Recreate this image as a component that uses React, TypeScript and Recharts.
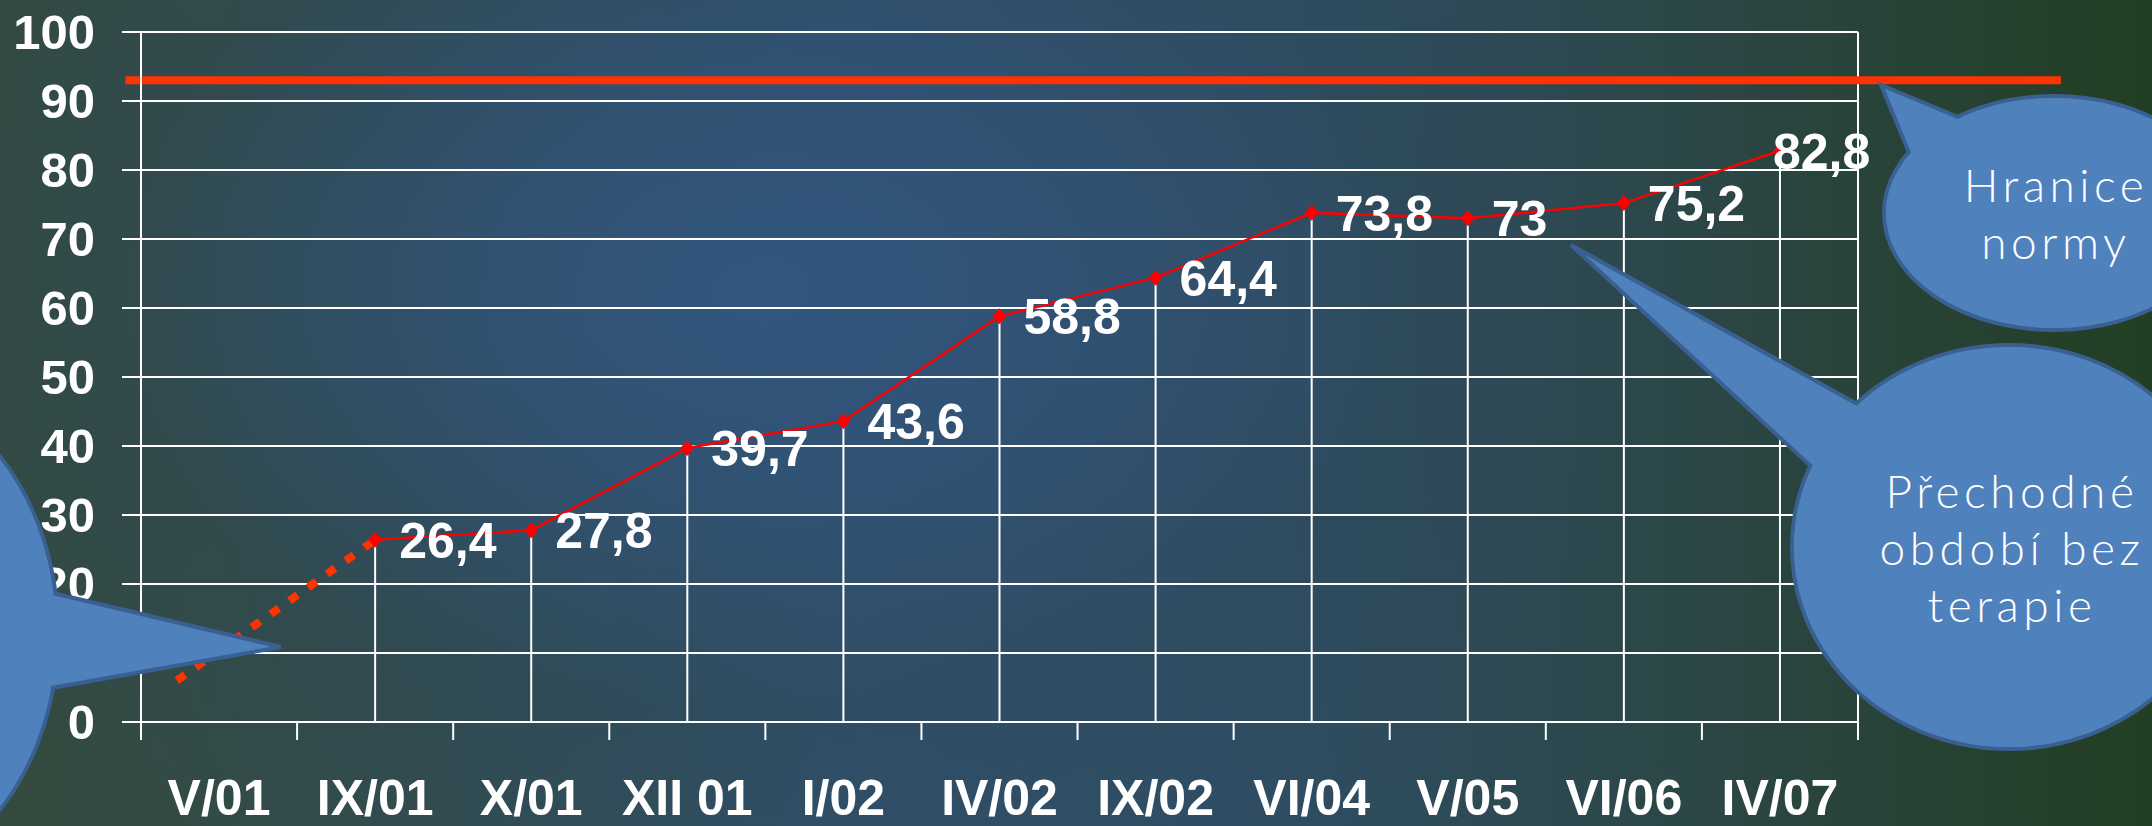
import React from 'react';
import { ComposedChart, Line, XAxis, YAxis, CartesianGrid, ReferenceLine, LabelList } from 'recharts';

// period labels on the x axis
const categories = ['V/01', 'IX/01', 'X/01', 'XII 01', 'I/02', 'IV/02', 'IX/02', 'VI/04', 'V/05', 'VI/06', 'IV/07'];
// measured values (V/01 has no measured point)
const values = [null, 26.4, 27.8, 39.7, 43.6, 58.8, 64.4, 73.8, 73, 75.2, 82.8];
const yTicks = [0, 10, 20, 30, 40, 50, 60, 70, 80, 90, 100];
// upper limit of the norm
const normLimit = 93;
// estimated start of the dotted segment (category position, value)
const estimateStart = { pos: 0.23, value: 6 };

const W = 2152;
const H = 826;
const boldFont = '"Liberation Sans", Arial, sans-serif';
const bubbleFont = 'Lato, "Open Sans", sans-serif';

const mainData = values
  .map((v, i) => ({ x: i + 0.5, v }))
  .filter((d) => d.v !== null);
const dottedData = [
  { x: estimateStart.pos, v: estimateStart.value },
  { x: 1.5, v: values[1] },
];
// tick marks on band edges, labels in band centres
const xTicks = categories
  .flatMap((_, i) => [i, i + 0.5])
  .concat(categories.length);

const XTick = (props: any) => {
  const { x, y, payload } = props;
  const v = payload.value as number;
  if (Number.isInteger(v)) {
    return <line x1={x} y1={y} x2={x} y2={y + 18} stroke="#FFFFFF" strokeWidth={2} />;
  }
  return (
    <text
      x={x}
      y={y + 93}
      textAnchor="middle"
      fill="#FFFFFF"
      fontFamily={boldFont}
      fontWeight="bold"
      fontSize={50}
    >
      {categories[Math.floor(v)]}
    </text>
  );
};

const Diamond = (props: any) => {
  const { cx, cy, index } = props;
  if (cx == null || cy == null) return <g key={index} />;
  return (
    <polygon
      key={index}
      points={`${cx},${cy - 8} ${cx + 7},${cy} ${cx},${cy + 8} ${cx - 7},${cy}`}
      fill="#FF0000"
    />
  );
};

const ValueLabel = (props: any) => {
  const { x, y, value, index } = props;
  const dx = index === mainData.length - 1 ? -7 : 24;
  return (
    <text
      x={x + dx}
      y={y}
      dy="0.36em"
      fill="#FFFFFF"
      fontFamily={boldFont}
      fontWeight="bold"
      fontSize={50}
    >
      {String(value).replace('.', ',')}
    </text>
  );
};

const Bubble = ({ cx, cy, rx, ry, tail }: { cx: number; cy: number; rx: number; ry: number; tail: number[][] }) => {
  const pts = tail.map((p) => p.join(',')).join(' ');
  const fill = '#4F81BD';
  const stroke = '#3A6091';
  return (
    <g>
      <ellipse cx={cx} cy={cy} rx={rx} ry={ry} fill={fill} stroke={stroke} strokeWidth={4} />
      <polygon points={pts} fill={fill} stroke={stroke} strokeWidth={4} strokeLinejoin="miter" />
      <ellipse cx={cx} cy={cy} rx={rx - 2} ry={ry - 2} fill={fill} />
    </g>
  );
};

export default function App() {
  return (
    <div
      style={{
        position: 'absolute',
        left: 0,
        top: 0,
        width: W,
        height: H,
        overflow: 'hidden',
        background:
          'radial-gradient(ellipse 1000px 650px at 760px 290px, rgba(50,86,128,0.95) 0%, rgba(48,82,118,0.7) 35%, rgba(45,72,90,0.35) 65%, rgba(40,64,60,0) 100%),' +
          'linear-gradient(90deg, #344A3E 0%, #324C4E 20%, #30506A 40%, #2F4D62 60%, #2B4644 80%, #223E22 100%)',
      }}
    >
      <ComposedChart width={W} height={H} margin={{ top: 32, right: 294, bottom: 0, left: 0 }}>
        <CartesianGrid vertical={false} stroke="#FFFFFF" strokeWidth={2} />
        <XAxis
          type="number"
          dataKey="x"
          domain={[0, categories.length]}
          ticks={xTicks}
          interval={0}
          height={104}
          tickSize={0}
          tickMargin={0}
          tickLine={false}
          axisLine={{ stroke: '#FFFFFF', strokeWidth: 2 }}
          tick={XTick}
        />
        <YAxis
          type="number"
          domain={[0, 100]}
          ticks={yTicks}
          interval={0}
          width={141}
          tickSize={19}
          tickMargin={27}
          axisLine={{ stroke: '#FFFFFF', strokeWidth: 2 }}
          tickLine={{ stroke: '#FFFFFF', strokeWidth: 2 }}
          tick={{ fill: '#FFFFFF', fontSize: 49, fontWeight: 'bold', fontFamily: boldFont }}
        />
        <ReferenceLine x={categories.length} stroke="#FFFFFF" strokeWidth={2} />
        {mainData.map((d) => (
          <ReferenceLine
            key={d.x}
            segment={[{ x: d.x, y: 0 }, { x: d.x, y: d.v as number }]}
            stroke="#FFFFFF"
            strokeWidth={2}
          />
        ))}
        <ReferenceLine
          ifOverflow="visible"
          segment={[{ x: -0.1, y: normLimit }, { x: 12.3, y: normLimit }]}
          stroke="#FF3300"
          strokeWidth={8}
        />
        <Line
          data={dottedData}
          dataKey="v"
          stroke="#FF3300"
          strokeWidth={8}
          strokeDasharray="10 13"
          dot={false}
          activeDot={false}
          isAnimationActive={false}
        />
        <Line
          data={mainData}
          dataKey="v"
          stroke="#FF0000"
          strokeWidth={2.5}
          dot={Diamond}
          activeDot={false}
          isAnimationActive={false}
        >
          <LabelList dataKey="v" content={ValueLabel} />
        </Line>
      </ComposedChart>
      <svg
        width={W}
        height={H}
        style={{ position: 'absolute', left: 0, top: 0, pointerEvents: 'none' }}
      >
        <Bubble cx={-142} cy={633} rx={200} ry={251} tail={[[40, 590], [281, 647], [40, 690]]} />
        <Bubble cx={2054} cy={213} rx={170} ry={117} tail={[[1970, 122], [1881, 85], [1912, 160]]} />
        <Bubble cx={2009} cy={547} rx={217} ry={202} tail={[[1868, 410], [1571, 245], [1815, 470]]} />
        <g fill="#FFFFFF" fontFamily={bubbleFont} fontWeight={300} fontSize={46} letterSpacing={4.5} textAnchor="middle">
          <text x={2056} y={202}>Hranice</text>
          <text x={2056} y={259}>normy</text>
          <text x={2012} y={508}>Přechodné</text>
          <text x={2012} y={565}>období bez</text>
          <text x={2012} y={622}>terapie</text>
        </g>
      </svg>
    </div>
  );
}
